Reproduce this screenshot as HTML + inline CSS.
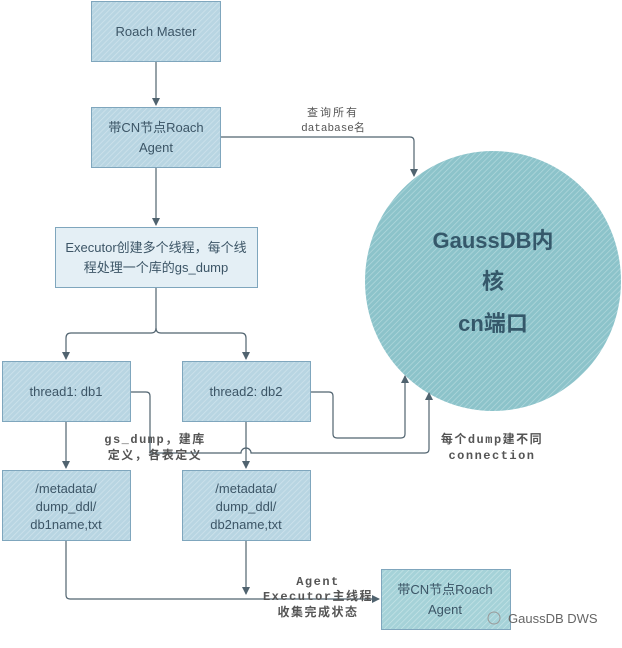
<!DOCTYPE html>
<html><head><meta charset="utf-8"><style>
body{margin:0;width:622px;height:643px;background:#fff;overflow:hidden;font-family:"Liberation Sans","Noto Sans CJK SC",sans-serif}
</style></head><body>
<svg width="622" height="643" viewBox="0 0 622 643" xmlns="http://www.w3.org/2000/svg">
<defs>
<pattern id="h" width="4" height="4" patternUnits="userSpaceOnUse" patternTransform="rotate(45)">
<rect width="4" height="4" fill="#b8d5e2"/><line x1="0" y1="0" x2="0" y2="4" stroke="#cfe3ec" stroke-width="1.5"/></pattern>
<pattern id="c" width="4" height="4" patternUnits="userSpaceOnUse" patternTransform="rotate(45)">
<rect width="4" height="4" fill="#8cc3ca"/><line x1="0" y1="0" x2="0" y2="4" stroke="#b6dade" stroke-width="1.3"/></pattern>
<pattern id="c2" width="4" height="4" patternUnits="userSpaceOnUse" patternTransform="rotate(45)">
<rect width="4" height="4" fill="#a5d2d8"/><line x1="0" y1="0" x2="0" y2="4" stroke="#c8e5e8" stroke-width="1.3"/></pattern>
<marker id="a" markerWidth="8" markerHeight="8" refX="7" refY="4" orient="auto" markerUnits="userSpaceOnUse"><path d="M0,0 L8,4 L0,8 Z" fill="#50636f"/></marker>
</defs>
<g stroke="#7fa6bd" stroke-width="1">
<rect x="91.5" y="1.5" width="129" height="60" fill="url(#h)"/>
<rect x="91.5" y="107.5" width="129" height="60" fill="url(#h)"/>
<rect x="55.5" y="227.5" width="202" height="60" fill="#e4eff5"/>
<rect x="2.5" y="361.5" width="128" height="60" fill="url(#h)"/>
<rect x="182.5" y="361.5" width="128" height="60" fill="url(#h)"/>
<rect x="2.5" y="470.5" width="128" height="70" fill="url(#h)"/>
<rect x="182.5" y="470.5" width="128" height="70" fill="url(#h)"/>
<rect x="381.5" y="569.5" width="129" height="60" fill="url(#c2)"/>
</g>
<ellipse cx="493" cy="281" rx="128" ry="130" fill="url(#c)"/>
<g fill="none" stroke="#50636f" stroke-width="1.2">
<path d="M156 62 V105" marker-end="url(#a)"/>
<path d="M156 168 V225" marker-end="url(#a)"/>
<path d="M221 137 H410 q4 0 4 4 V176" marker-end="url(#a)"/>
<path d="M156 288 V328 q0 5 -5 5 H71 q-5 0 -5 5 V359" marker-end="url(#a)"/>
<path d="M156 328 q0 5 5 5 H241 q5 0 5 5 V359" marker-end="url(#a)"/>
<path d="M66 422 V468" marker-end="url(#a)"/>
<path d="M246 422 V468" marker-end="url(#a)"/>
<path d="M131 392 H146 q4 0 4 4 V453 H241 a5 5 0 0 1 10 0 H425 q4 0 4 -4 V393" marker-end="url(#a)"/>
<path d="M311 392 H329 q4 0 4 4 V434 q0 4 4 4 H401 q4 0 4 -4 V376" marker-end="url(#a)"/>
<path d="M66 541 V595 q0 4 4 4 H379" marker-end="url(#a)"/>
<path d="M246 541 V594" marker-end="url(#a)"/>
</g>
<g fill="#3c5566" font-size="13" text-anchor="middle">
<text x="156" y="36">Roach Master</text>
<text x="156" y="132">带CN节点Roach</text>
<text x="156" y="152">Agent</text>
<text x="156" y="252">Executor创建多个线程，每个线</text>
<text x="156" y="272">程处理一个库的gs_dump</text>
<text x="66" y="396">thread1: db1</text>
<text x="246" y="396">thread2: db2</text>
<text x="66" y="493">/metadata/</text><text x="66" y="511">dump_ddl/</text><text x="66" y="529">db1name,txt</text>
<text x="246" y="493">/metadata/</text><text x="246" y="511">dump_ddl/</text><text x="246" y="529">db2name,txt</text>
<text x="445" y="594">带CN节点Roach</text>
<text x="445" y="614">Agent</text>
</g>
<g fill="#35586a" font-size="22" font-weight="bold" text-anchor="middle">
<text x="493" y="248">GaussDB内</text>
<text x="493" y="289">核</text>
<text x="493" y="331">cn端口</text>
</g>
<g fill="#555" font-size="11" font-family="'Liberation Mono','Noto Sans CJK SC',monospace" text-anchor="middle">
<text x="333" y="116" letter-spacing="2">查询所有</text>
<text x="333" y="131">database名</text>
</g>
<g fill="#555" font-size="12" font-weight="bold" font-family="'Liberation Mono','Noto Sans CJK SC',monospace" text-anchor="middle" letter-spacing="1.5">
<text x="155" y="443">gs_dump，建库</text>
<text x="155" y="459">定义，各表定义</text>
<text x="492" y="443">每个dump建不同</text>
<text x="492" y="459">connection</text>
<text x="318" y="585">Agent</text>
<text x="318" y="600">Executor主线程</text>
<text x="318" y="616">收集完成状态</text>
</g>
<text x="508" y="623" fill="#666" font-size="13">GaussDB DWS</text>
<circle cx="494" cy="618" r="6" fill="none" stroke="#999"/>
</svg>
</body></html>
